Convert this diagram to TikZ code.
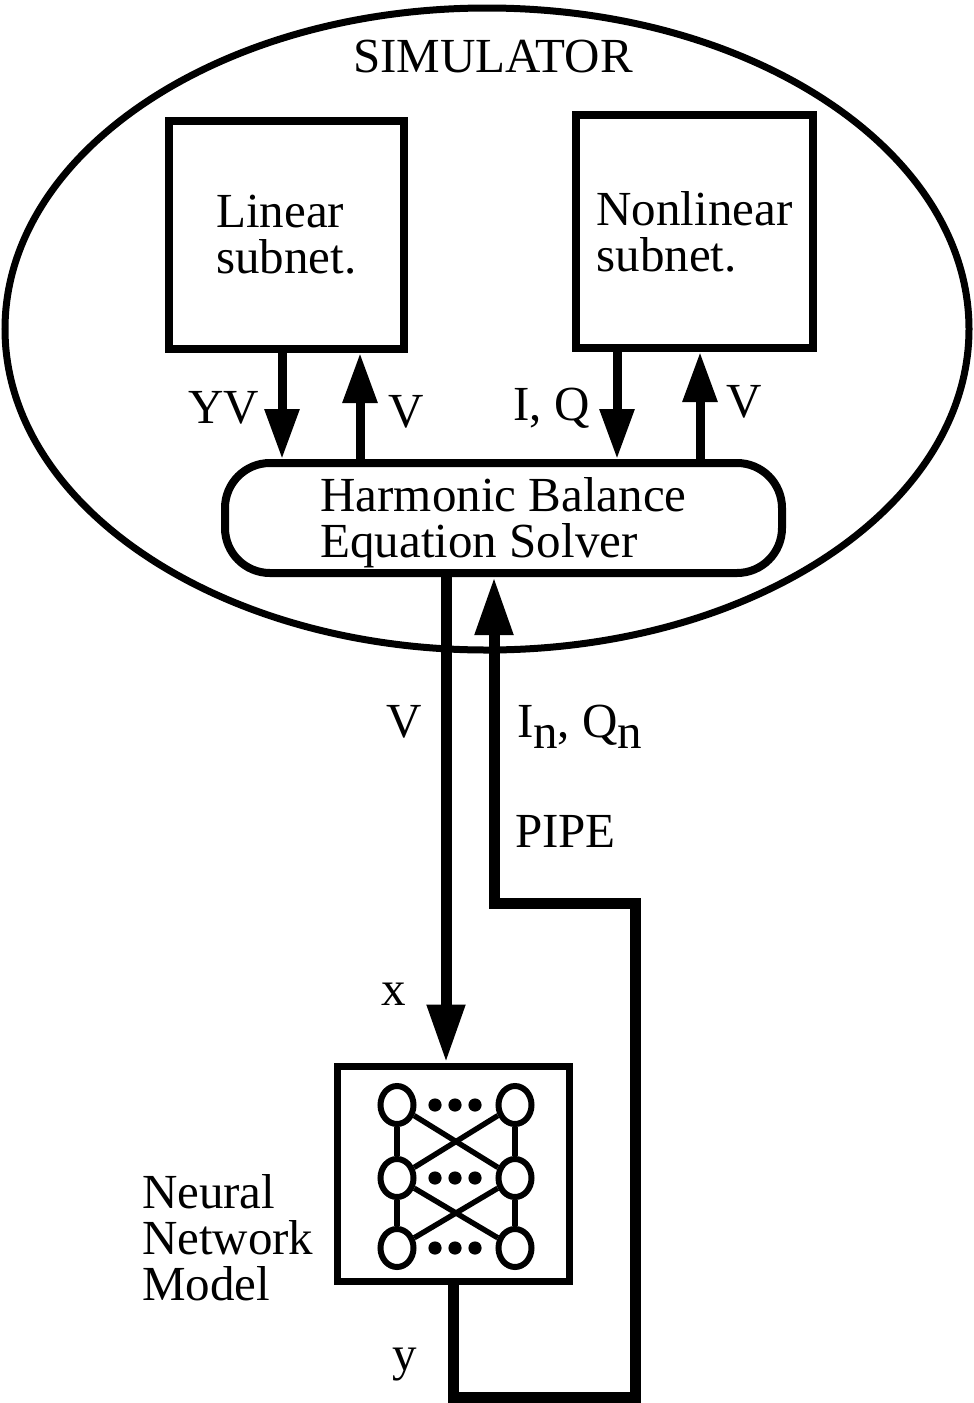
\documentclass[tikz,border=0pt]{standalone}
\usepackage{fontspec}
\setmainfont{Liberation Serif}
\usepackage{tikz}
\usetikzlibrary{arrows.meta,shapes.geometric}
\newcommand{\diagfont}{\fontsize{24.5}{23}\selectfont}
\newcommand{\lowerline}[1]{\raisebox{-2.5pt}[\height][\depth]{#1}}
\tikzset{
  labelnode/.style={
    font=\diagfont, inner sep=0pt, outer sep=0pt
  },
  simshape/.style={
    ellipse, draw, line width=3.5pt, inner sep=0pt,
    minimum width=482pt, minimum height=321pt
  },
  subnetbox/.style={
    rectangle, draw, line width=4pt,
    font=\diagfont, align=left, inner sep=0pt
  },
  solverbox/.style={
    rectangle, draw, line width=4pt, rounded corners=22.5pt,
    minimum width=278.5pt, minimum height=55pt,
    font=\diagfont, align=left, inner sep=0pt
  },
  netbox/.style={
    rectangle, draw, line width=3.5pt,
    minimum width=116pt, minimum height=107.5pt
  },
  neuron/.style={
    ellipse, draw, line width=3pt, inner sep=0pt,
    minimum width=16.5pt, minimum height=19pt
  },
  netlink/.style={line width=2.7pt},
  sigarrow/.style={
    -{Triangle[length=25pt, width=16.5pt]}, line width=4.5pt
  },
  pipearrow/.style={
    -{Triangle[length=29pt, width=18pt]}, line width=5.5pt
  },
}

\begin{document}
\begin{tikzpicture}[x=0.5pt, y=-0.5pt]
  \useasboundingbox (0,0) rectangle (974,1403);

  % ── Simulator ────────────────
  \node[simshape] (sim) at (487,329) {};
  \node[labelnode, anchor=base] (simlab) at (493,72) {SIMULATOR};

  \node[subnetbox, minimum width=117.5pt, minimum height=114pt] (lin)
    at (286.5,235) {Linear\\subnet.};
  \node[subnetbox, minimum width=118.5pt, minimum height=116.5pt] (nlin)
    at (694.5,231.5) {Nonlinear\\subnet.};
  \node[solverbox] (hbs) at (503.5,518)
    {\lowerline{Harmonic Balance}\\\lowerline{Equation Solver}};

  % ── Subnet <-> solver ────────
  \coordinate (yvx) at (282,0);
  \coordinate (vlx) at (360,0);
  \coordinate (iqx) at (617,0);
  \coordinate (vnx) at (700,0);
  \draw[sigarrow] (lin.south -| yvx) -- (hbs.north -| yvx);
  \draw[sigarrow] (hbs.north -| vlx) -- (lin.south -| vlx);
  \draw[sigarrow] (nlin.south -| iqx) -- (hbs.north -| iqx);
  \draw[sigarrow] (hbs.north -| vnx) -- (nlin.south -| vnx);
  \node[labelnode, anchor=base] (yvlab) at (224,423) {YV};
  \node[labelnode, anchor=base] (vllab) at (406,427) {V};
  \node[labelnode, anchor=base] (iqlab) at (551.5,420) {I, Q};
  \node[labelnode, anchor=base] (vnlab) at (744,417) {V};

  % ── Neural network model ─────
  \node[netbox] (nn) at (453,1173.5) {};
  \foreach \r/\y in {1/1105,2/1178,3/1248} {
    \node[neuron] (l\r) at (397,\y) {};
    \node[neuron] (r\r) at (515,\y) {};
    \foreach \x in {435,455,475}
      \fill (\x,\y) circle[radius=3.3pt];
  }
  \foreach \a/\b in {1/2,2/3} {
    \draw[netlink] (l\a) -- (l\b);
    \draw[netlink] (r\a) -- (r\b);
    \draw[netlink] (l\a) -- (r\b);
    \draw[netlink] (r\a) -- (l\b);
  }
  \node[labelnode, anchor=west, align=left] (nnlab) at (142,1238)
    {Neural\\Network\\Model};

  % ── Solver <-> model (pipe) ──
  \coordinate (vdx) at (446,0);
  \coordinate (yx) at (453,0);
  \coordinate (inx) at (494,0);
  \coordinate (pbr) at (635,1397);
  \coordinate (ptr) at (635,903);
  \draw[pipearrow] (hbs.south -| vdx) -- (nn.north -| vdx);
  \draw[pipearrow] (nn.south -| yx) |- (pbr) -- (ptr) -| (hbs.south -| inx);
  \node[labelnode, anchor=base] (vdlab) at (404,737) {V};
  \node[labelnode, anchor=base west] (inlab) at (517,737)
    {I\raisebox{-5.5pt}{n}, Q\raisebox{-5.5pt}{n}};
  \node[labelnode, anchor=base west] (pipelab) at (515,847) {PIPE};
  \node[labelnode, anchor=base] (xlab) at (393.5,1005) {x};
  \node[labelnode, anchor=base] (ylab) at (405,1370) {y};
\end{tikzpicture}
\end{document}
